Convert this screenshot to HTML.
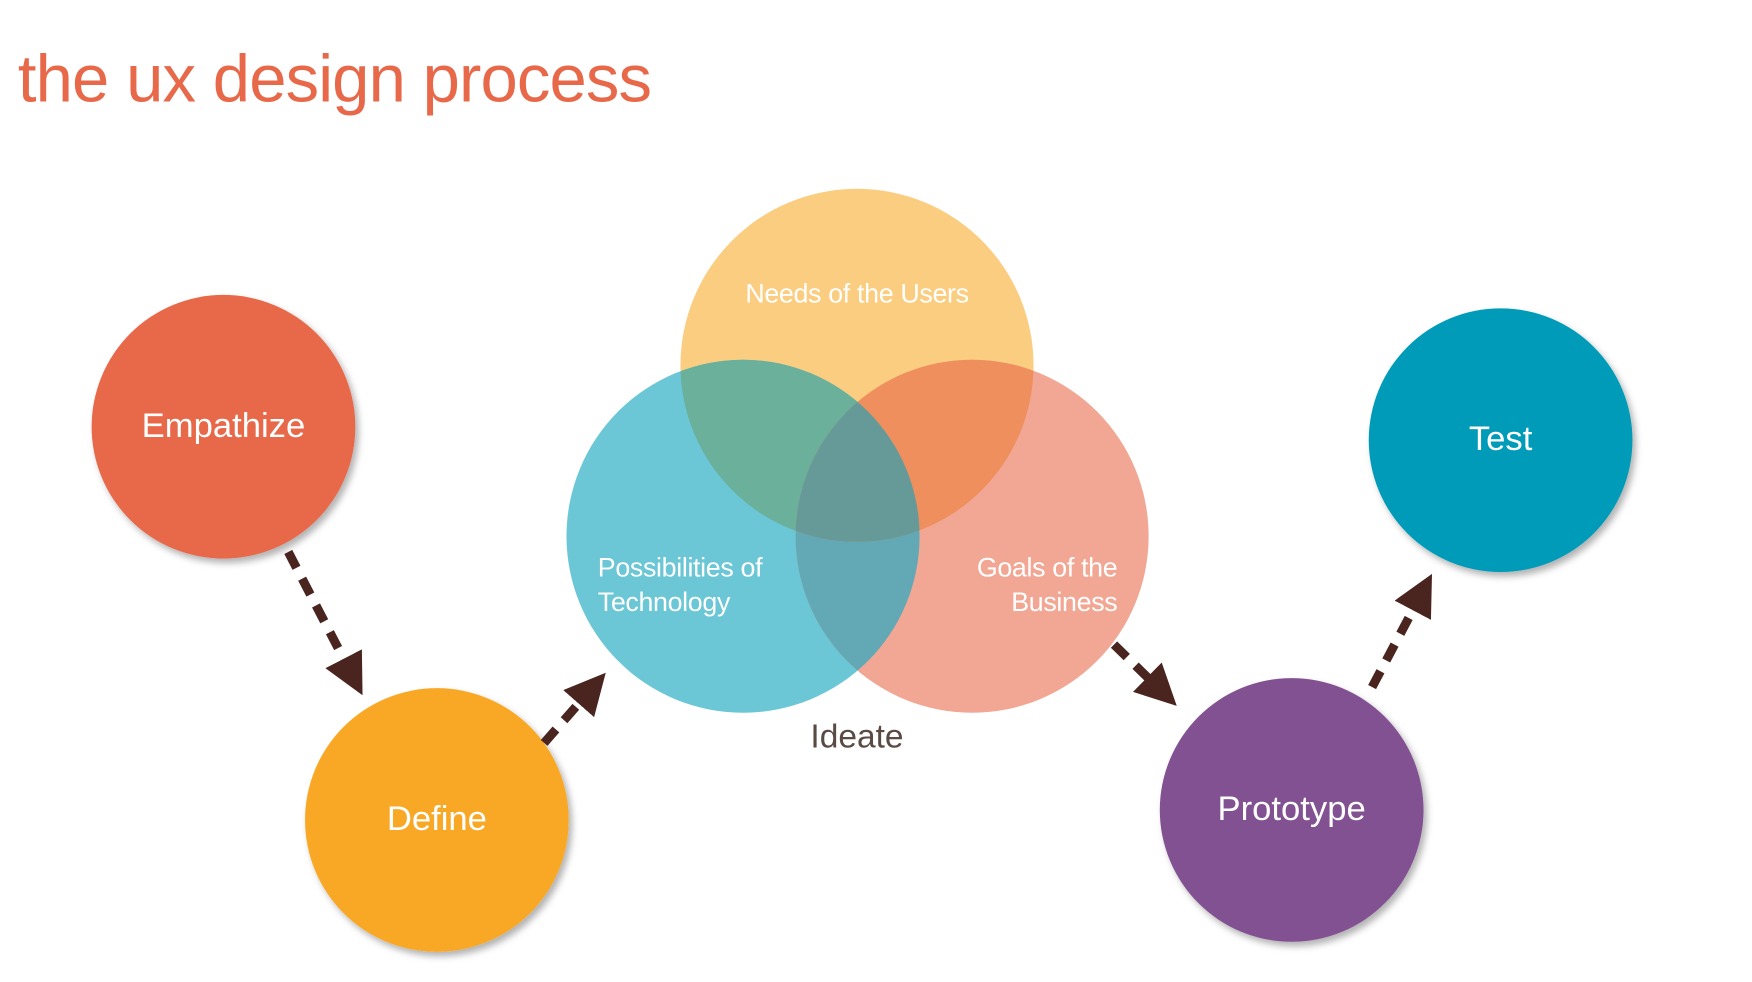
<!DOCTYPE html>
<html><head><meta charset="utf-8"><style>
html,body{margin:0;padding:0;background:#fff;}
svg{display:block;}
text{font-family:"Liberation Sans",sans-serif;}
</style></head><body>
<svg width="1752" height="982" viewBox="0 0 1568 879" preserveAspectRatio="none" xmlns="http://www.w3.org/2000/svg">
<defs>
<filter id="sh" x="-20%" y="-20%" width="150%" height="150%">
<feDropShadow dx="3" dy="4" stdDeviation="3" flood-color="#000" flood-opacity="0.3"/>
</filter>
<clipPath id="cN"><circle cx="767" cy="327" r="158"/></clipPath>
<clipPath id="cT"><circle cx="665" cy="480" r="158"/></clipPath>
<marker id="ah" viewBox="0 0 10 10" refX="5" refY="5" markerWidth="4.6" markerHeight="4.6" orient="auto" markerUnits="strokeWidth">
<path d="M0,0 L10,5 L0,10 z" fill="#4a2520"/>
</marker>
</defs>
<text x="16" y="91" font-size="60" fill="#e8694a" letter-spacing="-0.8">the ux design process</text>

<g filter="url(#sh)">
<circle cx="200" cy="382" r="118" fill="#e8694a"/>
<circle cx="391" cy="734" r="118" fill="#f9a825"/>
<circle cx="1343" cy="394" r="118" fill="#009bb8"/>
<circle cx="1156" cy="725" r="118" fill="#825191"/>
</g>
<text x="200" y="391" font-size="31" fill="#fff" text-anchor="middle">Empathize</text>
<text x="391" y="743" font-size="31" fill="#fff" text-anchor="middle">Define</text>
<text x="1343" y="403" font-size="31" fill="#fff" text-anchor="middle">Test</text>
<text x="1156" y="734" font-size="31" fill="#fff" text-anchor="middle">Prototype</text>

<circle cx="767" cy="327" r="158" fill="#fbcd80"/>
<circle cx="665" cy="480" r="158" fill="#6bc6d5"/>
<circle cx="870" cy="480" r="158" fill="#f2a794"/>
<circle cx="870" cy="480" r="158" fill="#62a8b5" clip-path="url(#cT)"/>
<circle cx="665" cy="480" r="158" fill="#6ab09b" clip-path="url(#cN)"/>
<circle cx="870" cy="480" r="158" fill="#ef8f5e" clip-path="url(#cN)"/>
<g clip-path="url(#cN)"><circle cx="870" cy="480" r="158" fill="#659a98" clip-path="url(#cT)"/></g>

<text x="767" y="271" font-size="24" fill="#fff" text-anchor="middle" letter-spacing="-0.3">Needs of the Users</text>
<text x="535" y="516" font-size="24" fill="#fff" letter-spacing="-0.3">Possibilities of</text>
<text x="535" y="547" font-size="24" fill="#fff" letter-spacing="-0.3">Technology</text>
<text x="1000" y="516" font-size="24" fill="#fff" text-anchor="end" letter-spacing="-0.3">Goals of the</text>
<text x="1000" y="547" font-size="24" fill="#fff" text-anchor="end" letter-spacing="-0.3">Business</text>
<text x="767" y="669" font-size="30" fill="#5a4a44" text-anchor="middle">Ideate</text>

<g stroke="#4a2520" stroke-width="8" stroke-dasharray="16,11" fill="none" marker-end="url(#ah)">
<line x1="258" y1="494" x2="316" y2="606"/>
<line x1="487" y1="665" x2="530" y2="616"/>
<line x1="997" y1="577" x2="1040" y2="619"/>
<line x1="1228" y1="615" x2="1273" y2="530"/>
</g>
</svg>
</body></html>
